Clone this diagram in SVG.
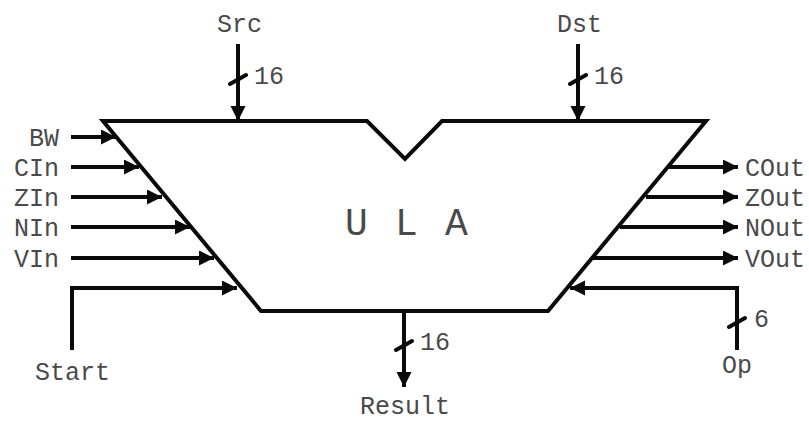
<svg xmlns="http://www.w3.org/2000/svg" width="809" height="421" viewBox="0 0 809 421">
<style>
text{font-family:"Liberation Mono","Courier New",monospace;font-size:25px;fill:#4a4a4a}
.r{text-anchor:end}
.w{fill:none;stroke:#0a0a0a;stroke-width:4}
.s{fill:none;stroke:#0a0a0a;stroke-width:4;stroke-linecap:round}
.a{fill:none;stroke:#0a0a0a;stroke-width:4;marker-end:url(#h)}
</style>
<defs><marker id="h" markerUnits="userSpaceOnUse" markerWidth="16" markerHeight="16" refX="15" refY="7.5" orient="auto"><path d="M0 0L15 7.5L0 15Z" fill="#0a0a0a"/></marker></defs>
<rect width="809" height="421" fill="#fff"/>
<g id="connectors">
<path class="a" d="M71 137H116"/>
<path class="a" d="M71 167H139"/>
<path class="a" d="M71 197H162"/>
<path class="a" d="M71 227H190"/>
<path class="a" d="M71 258H214"/>
<path class="a" d="M72 350V288H237"/>
<path class="a" d="M669 167H738"/>
<path class="a" d="M646 197H738"/>
<path class="a" d="M620 227H738"/>
<path class="a" d="M593 258H738"/>
<path class="a" d="M737 350V288H570"/>
<path class="a" d="M238 44V121"/>
<path class="a" d="M578 44V121"/>
<path class="a" d="M404 311V387"/>
<path class="s" d="M230 84L246 75M570 84L586 75M396 350L412 341M729 327L745 318"/>
</g>
<g id="ula">
<path class="w" stroke-linejoin="miter" d="M103 121H367L405 159L442 121H706L548 311H261Z"/>
<text x="345" y="235" style="font-size:38px;letter-spacing:2.2px">U L A</text>
</g>
<g id="in-labels">
<text class="r" x="59" y="146">BW</text>
<text class="r" x="59" y="176">CIn</text>
<text class="r" x="59" y="206">ZIn</text>
<text class="r" x="59" y="236">NIn</text>
<text class="r" x="59" y="267">VIn</text>
<text x="35" y="380">Start</text>
</g>
<g id="out-labels">
<text x="745" y="176">COut</text>
<text x="745" y="206">ZOut</text>
<text x="745" y="236">NOut</text>
<text x="745" y="267">VOut</text>
<text x="722" y="373">Op</text>
<text x="754" y="327">6</text>
</g>
<g id="bus-labels">
<text x="217" y="32">Src</text>
<text x="557" y="32">Dst</text>
<text x="360" y="413.5">Result</text>
<text x="254" y="84">16</text>
<text x="594" y="84">16</text>
<text x="420" y="350">16</text>
</g>
</svg>
